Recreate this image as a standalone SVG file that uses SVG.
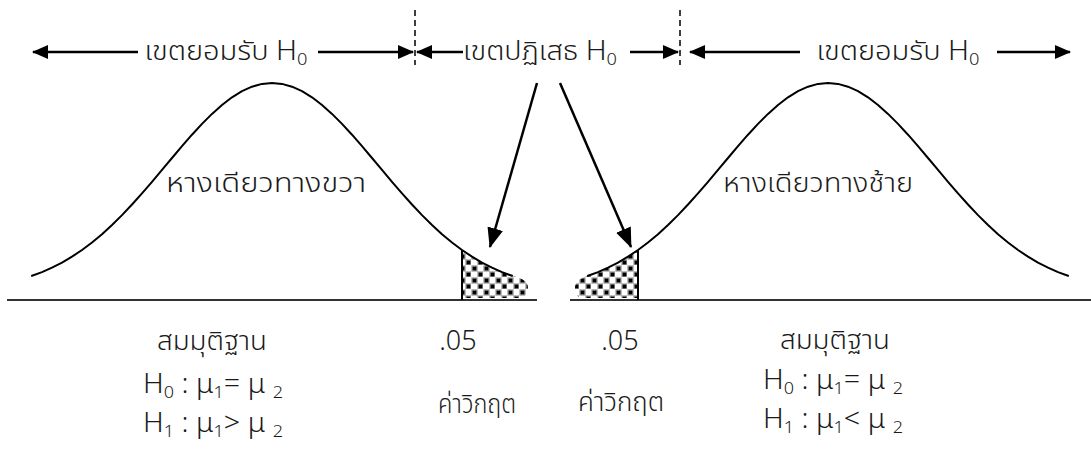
<svg xmlns="http://www.w3.org/2000/svg" width="1091" height="452" viewBox="0 0 1091 452">
<style>
.t{font-family:"Noto Sans Thai","Noto Sans","DejaVu Sans",sans-serif;font-size:27px;font-weight:300;fill:#1a1a1a;text-anchor:middle}
.curve{fill:none;stroke:#000;stroke-width:2;stroke-linejoin:round;stroke-linecap:round}
.base{stroke:#333;stroke-width:2.2}
.vl{stroke:#000;stroke-width:2}
.dash{stroke:#000;stroke-width:1.5;stroke-dasharray:6 4}
.arr{stroke:#000;stroke-width:2.5;fill:none}
.sub{font-size:17px}
</style>
<defs>
<marker id="ah" viewBox="0 0 16 14" refX="15" refY="7" markerWidth="16" markerHeight="14" orient="auto" markerUnits="userSpaceOnUse"><path d="M0,0 L16,7 L0,14 z" fill="#000"/></marker>
<marker id="ah2" viewBox="0 0 20 16" refX="19" refY="8" markerWidth="20" markerHeight="16" orient="auto" markerUnits="userSpaceOnUse"><path d="M0,0 L20,8 L0,16 z" fill="#000"/></marker>
<pattern id="dots" width="12" height="12" patternUnits="userSpaceOnUse" x="3" y="1">
<rect width="12" height="12" fill="#fff"/>
<rect x="1" y="1" width="5" height="5" fill="#000" stroke="#999" stroke-width="1.3"/>
<rect x="7" y="7" width="5" height="5" fill="#000" stroke="#999" stroke-width="1.3"/>
</pattern>
</defs>

<g id="left-bell">
<line class="base" x1="7" y1="300" x2="537" y2="300"/>
<path d="M462,250 L472,256.7 L482,262.6 L492,267.7 L502,272.1 L512,275.8 C520,278 528,280 528,288 C528,294 524,298 520,298 L462,298 Z" fill="url(#dots)"/>
<polyline class="curve" points="32,275.8 42,272.1 52,267.7 62,262.6 72,256.7 82,250 92,242.5 102,234.2 112,225 122,215.1 132,204.5 142,193.4 152,181.8 162,169.9 172,158 182,146.2 192,134.7 202,123.9 212,113.9 222,105 232,97.3 242,91.2 252,86.7 262,83.9 272,83 282,83.9 292,86.7 302,91.2 312,97.3 322,105 332,113.9 342,123.9 352,134.7 362,146.2 372,158 382,169.9 392,181.8 402,193.4 412,204.5 422,215.1 432,225 442,234.2 452,242.5 462,250 472,256.7 482,262.6 492,267.7 502,272.1 512,275.8"/>
<line class="vl" x1="462" y1="250" x2="462" y2="300"/>
<text class="t" x="266" y="192" font-size="29" textLength="200" lengthAdjust="spacingAndGlyphs">หางเดียวทางขวา</text>
</g>

<g id="right-bell">
<line class="base" x1="570" y1="300" x2="1091" y2="300"/>
<path d="M638,250 L628,256.7 L618,262.6 L608,267.7 L598,272.1 L588,275.8 C581,278 575,281 575,288 C575,294 578,298 582,298 L638,298 Z" fill="url(#dots)"/>
<polyline class="curve" points="588,275.8 598,272.1 608,267.7 618,262.6 628,256.7 638,250 648,242.5 658,234.2 668,225 678,215.1 688,204.5 698,193.4 708,181.8 718,169.9 728,158 738,146.2 748,134.7 758,123.9 768,113.9 778,105 788,97.3 798,91.2 808,86.7 818,83.9 828,83 838,83.9 848,86.7 858,91.2 868,97.3 878,105 888,113.9 898,123.9 908,134.7 918,146.2 928,158 938,169.9 948,181.8 958,193.4 968,204.5 978,215.1 988,225 998,234.2 1008,242.5 1018,250 1028,256.7 1038,262.6 1048,267.7 1058,272.1 1068,275.8"/>
<line class="vl" x1="638" y1="250" x2="638" y2="300"/>
<text class="t" x="818" y="192" font-size="29" textLength="190" lengthAdjust="spacingAndGlyphs">หางเดียวทางช้าย</text>
</g>

<g id="top-labels">
<text class="t" x="226" y="60" font-size="28" textLength="163" lengthAdjust="spacingAndGlyphs">เขตยอมรับ H<tspan class="sub" dy="5">0</tspan></text>
<text class="t" x="540" y="60" font-size="28" textLength="154" lengthAdjust="spacingAndGlyphs">เขตปฏิเสธ H<tspan class="sub" dy="5">0</tspan></text>
<text class="t" x="898" y="60" font-size="28" textLength="163" lengthAdjust="spacingAndGlyphs">เขตยอมรับ H<tspan class="sub" dy="5">0</tspan></text>
</g>

<g id="boundaries">
<line class="dash" x1="415" y1="10" x2="415" y2="65"/>
<line class="dash" x1="680" y1="10" x2="680" y2="65"/>
</g>

<g id="left-bottom">
<text class="t" x="212" y="350" textLength="110" lengthAdjust="spacingAndGlyphs">สมมุติฐาน</text>
<text class="t" x="213" y="393" font-size="28" textLength="140" lengthAdjust="spacingAndGlyphs">H<tspan class="sub" dy="5">0</tspan><tspan dy="-5"> : μ</tspan><tspan class="sub" dy="5">1</tspan><tspan dy="-5">= μ </tspan><tspan class="sub" dy="5">2</tspan></text>
<text class="t" x="213" y="432" font-size="28" textLength="140" lengthAdjust="spacingAndGlyphs">H<tspan class="sub" dy="5">1</tspan><tspan dy="-5"> : μ</tspan><tspan class="sub" dy="5">1</tspan><tspan dy="-5">&gt; μ </tspan><tspan class="sub" dy="5">2</tspan></text>
<text class="t" x="458" y="350" font-size="22">.05</text>
<text class="t" x="477" y="413" font-size="26" textLength="78" lengthAdjust="spacingAndGlyphs">ค่าวิกฤต</text>
</g>

<g id="right-bottom">
<text class="t" x="620" y="350" font-size="22">.05</text>
<text class="t" x="621" y="411" font-size="26" textLength="86" lengthAdjust="spacingAndGlyphs">ค่าวิกฤต</text>
<text class="t" x="835" y="349" textLength="110" lengthAdjust="spacingAndGlyphs">สมมุติฐาน</text>
<text class="t" x="833" y="389" font-size="28" textLength="140" lengthAdjust="spacingAndGlyphs">H<tspan class="sub" dy="5">0</tspan><tspan dy="-5"> : μ</tspan><tspan class="sub" dy="5">1</tspan><tspan dy="-5">= μ </tspan><tspan class="sub" dy="5">2</tspan></text>
<text class="t" x="833" y="428" font-size="28" textLength="140" lengthAdjust="spacingAndGlyphs">H<tspan class="sub" dy="5">1</tspan><tspan dy="-5"> : μ</tspan><tspan class="sub" dy="5">1</tspan><tspan dy="-5">&lt; μ </tspan><tspan class="sub" dy="5">2</tspan></text>
</g>

<g id="connectors">
<line class="arr" x1="138" y1="52" x2="33" y2="52" marker-end="url(#ah)"/>
<line class="arr" x1="318" y1="52" x2="413" y2="52" marker-end="url(#ah)"/>
<line class="arr" x1="463" y1="52" x2="417" y2="52" marker-end="url(#ah)"/>
<line class="arr" x1="630" y1="52" x2="678" y2="52" marker-end="url(#ah)"/>
<line class="arr" x1="800" y1="52" x2="690" y2="52" marker-end="url(#ah)"/>
<line class="arr" x1="997" y1="52" x2="1070" y2="52" marker-end="url(#ah)"/>
<line class="arr" x1="537" y1="83" x2="490" y2="247" marker-end="url(#ah2)"/>
<line class="arr" x1="560" y1="83" x2="631" y2="247" marker-end="url(#ah2)"/>
</g>
</svg>
